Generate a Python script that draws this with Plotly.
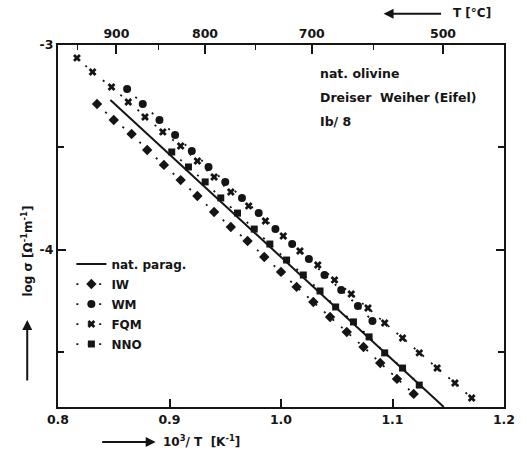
import plotly.graph_objects as go

# ---- data ----
fqm_x = [0.817, 0.831, 0.848, 0.863, 0.878, 0.894, 0.910, 0.925, 0.940, 0.955, 0.971, 0.986,
         1.002, 1.017, 1.033, 1.048, 1.063, 1.078, 1.093, 1.109, 1.124, 1.140, 1.156, 1.171]
fqm_y = [-3.063, -3.132, -3.205, -3.278, -3.351, -3.424, -3.493, -3.566, -3.644, -3.717, -3.785, -3.859,
         -3.932, -4.005, -4.073, -4.146, -4.215, -4.283, -4.356, -4.429, -4.502, -4.576, -4.649, -4.722]

wm_x = [0.862, 0.876, 0.891, 0.905, 0.920, 0.935, 0.950, 0.965, 0.980, 0.995, 1.010, 1.025,
        1.039, 1.054, 1.069, 1.082]
wm_y = [-3.215, -3.288, -3.366, -3.439, -3.517, -3.595, -3.668, -3.746, -3.820, -3.898, -3.971, -4.044,
        -4.122, -4.195, -4.273, -4.346]

iw_x = [0.835, 0.850, 0.866, 0.880, 0.895, 0.910, 0.925, 0.940, 0.955, 0.970, 0.985, 1.000,
        1.014, 1.029, 1.044, 1.059, 1.074, 1.089, 1.104, 1.119]
iw_y = [-3.288, -3.366, -3.434, -3.512, -3.585, -3.659, -3.737, -3.815, -3.888, -3.956, -4.034, -4.107,
        -4.180, -4.254, -4.327, -4.400, -4.473, -4.551, -4.629, -4.702]

nno_x = [0.902, 0.917, 0.932, 0.946, 0.961, 0.976, 0.990, 1.005, 1.020, 1.035, 1.049, 1.065,
         1.079, 1.093, 1.109, 1.124]
nno_y = [-3.522, -3.595, -3.668, -3.746, -3.820, -3.898, -3.971, -4.049, -4.122, -4.200, -4.278, -4.351,
         -4.424, -4.502, -4.576, -4.659]

parag_x = [0.847, 1.146]
parag_y = [-3.268, -4.766]

x_ticks = [0.8, 0.9, 1.0, 1.1, 1.2]
x_ticktext = ["0.8", "0.9", "1.0", "1.1", "1.2"]
y_ticks = [-3, -4]
y_ticktext = ["-3", "-4"]
y_minor = [-3.5, -4.5]
top_T_major = [900, 800, 700, 600]
top_T_labels = ["900", "800", "700", "500"]
top_T_minor = [950, 850, 750, 650]

x_range = [0.8, 1.2]
y_range = [-4.766, -3.0]

INK = "#151515"
FONT = dict(family="DejaVu Sans", size=12, color=INK, weight="bold")

fig = go.Figure()

fig.add_trace(go.Scatter(x=parag_x, y=parag_y, mode="lines", name="nat. parag.",
                         line=dict(color=INK, width=2), legendgroup="a"))

dots = "2px,9.4px"
series = [("IW", iw_x, iw_y, "diamond", 8),
          ("WM", wm_x, wm_y, "circle", 8),
          ("FQM", fqm_x, fqm_y, "x", 7),
          ("NNO", nno_x, nno_y, "square", 7)]
for name, xs, ys, sym, sz in series:
    fig.add_trace(go.Scatter(x=xs, y=ys, mode="lines+markers", name=name,
                             line=dict(color=INK, width=1.8, dash=dots),
                             marker=dict(symbol=sym, size=sz, color=INK, line=dict(width=0)),
                             legendgroup=name))

# hidden trace for top temperature axis
fig.add_trace(go.Scatter(x=x_range, y=[None, None], xaxis="x2", showlegend=False,
                         hoverinfo="skip", mode="lines"))

top_major_vals = [1000.0 / (t + 273.15) for t in top_T_major]
top_minor_vals = [1000.0 / (t + 273.15) for t in top_T_minor]

fig.update_layout(
    width=527, height=457,
    margin=dict(l=58, r=17, t=45, b=50),
    paper_bgcolor="white", plot_bgcolor="white",
    font=FONT,
    showlegend=True,
    legend=dict(x=0.03, y=0.435, xanchor="left", yanchor="top",
                bgcolor="rgba(0,0,0,0)", font=dict(size=12),
                tracegroupgap=1, itemwidth=30),
    xaxis=dict(range=x_range, tickvals=x_ticks, ticktext=x_ticktext,
               ticks="inside", ticklen=8, tickwidth=1.5, tickcolor=INK,
               showline=True, linewidth=2, linecolor=INK, showgrid=False,
               zeroline=False, mirror=False, tickfont=dict(size=12.5)),
    xaxis2=dict(range=x_range, overlaying="x", side="top",
                tickvals=top_major_vals, ticktext=top_T_labels,
                ticks="inside", ticklen=9, tickwidth=1.5, tickcolor=INK,
                minor=dict(tickvals=top_minor_vals, ticks="inside", ticklen=5,
                           tickwidth=1.2, tickcolor=INK),
                showline=True, linewidth=2, linecolor=INK, showgrid=False,
                zeroline=False, tickfont=dict(size=12.5)),
    yaxis=dict(range=y_range, tickvals=y_ticks, ticktext=y_ticktext,
               ticks="inside", ticklen=8, tickwidth=1.5, tickcolor=INK,
               minor=dict(tickvals=y_minor, ticks="inside", ticklen=6,
                          tickwidth=1.5, tickcolor=INK),
               showline=True, linewidth=2, linecolor=INK, showgrid=False,
               zeroline=False, mirror="ticks", tickfont=dict(size=12.5)),
)

ann = []
for txt, yy in [("nat. olivine", 0.920), ("Dreiser  Weiher (Eifel)", 0.854), ("Ib/ 8", 0.790)]:
    ann.append(dict(text=txt, x=0.584, y=yy, xref="paper", yref="paper",
                    xanchor="left", yanchor="middle", showarrow=False,
                    font=dict(size=12.5)))
# top axis title with arrow
ann.append(dict(text="T [°C]", x=0.881, y=1.088, xref="paper", yref="paper",
                xanchor="left", yanchor="middle", showarrow=False, font=dict(size=12)))
ann.append(dict(text="", x=0.730, y=1.086, xref="paper", yref="paper",
                ax=59, ay=0, showarrow=True, arrowhead=2, arrowsize=1,
                arrowwidth=2, arrowcolor=INK))
# bottom axis title with arrow
ann.append(dict(text="10<sup>3</sup>/ T  [K<sup>-1</sup>]", x=0.232, y=-0.093,
                xref="paper", yref="paper", xanchor="left", yanchor="middle",
                showarrow=False, font=dict(size=12)))
ann.append(dict(text="", x=0.219, y=-0.097, xref="paper", yref="paper",
                ax=-55, ay=0, showarrow=True, arrowhead=2, arrowsize=1,
                arrowwidth=2, arrowcolor=INK))
# left axis title with arrow
ann.append(dict(text="log σ [Ω<sup>-1</sup>m<sup>-1</sup>]", x=-0.069, y=0.43,
                xref="paper", yref="paper", xanchor="center", yanchor="middle",
                textangle=-90, showarrow=False, font=dict(size=12)))
ann.append(dict(text="", x=-0.069, y=0.24, xref="paper", yref="paper",
                ax=0, ay=62, showarrow=True, arrowhead=2, arrowsize=1,
                arrowwidth=2, arrowcolor=INK))
fig.update_layout(annotations=ann)

fig.write_html("out.html", config={"displayModeBar": False},
               post_script="document.body.style.margin='0px';")
